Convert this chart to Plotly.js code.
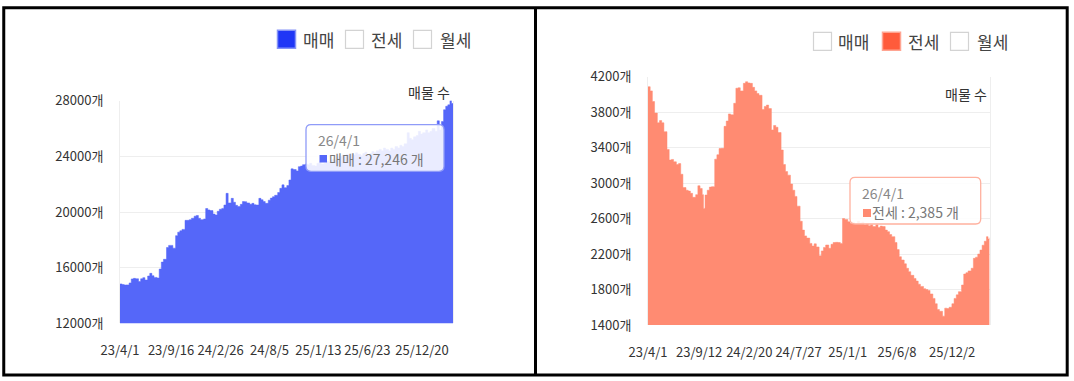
<!DOCTYPE html>
<html>
<head>
<meta charset="utf-8">
<script src="https://cdn.plot.ly/plotly-3.0.1.min.js"></script>
<style>
html,body{margin:0;padding:0;background:#fff;}
#chart{width:1074px;height:381px;}
</style>
</head>
<body>
<div id="chart"></div>
<script>
// ---------- DATA ----------
const dates = [
"2023-04-01","2023-04-08","2023-04-15","2023-04-22",
"2023-05-01","2023-05-08","2023-05-15","2023-05-22",
"2023-06-01","2023-06-08","2023-06-15","2023-06-22",
"2023-07-01","2023-07-08","2023-07-15","2023-07-22",
"2023-08-01","2023-08-08","2023-08-15","2023-08-22",
"2023-09-01","2023-09-08","2023-09-15","2023-09-22","2023-09-26",
"2023-10-01","2023-10-08","2023-10-15","2023-10-22",
"2023-11-01","2023-11-08","2023-11-15","2023-11-22",
"2023-12-01","2023-12-08","2023-12-15","2023-12-22",
"2024-01-01","2024-01-08","2024-01-15","2024-01-22",
"2024-02-01","2024-02-08","2024-02-15","2024-02-22",
"2024-03-01","2024-03-08","2024-03-15","2024-03-22",
"2024-04-01","2024-04-08","2024-04-15","2024-04-22",
"2024-05-01","2024-05-08","2024-05-15","2024-05-22",
"2024-06-01","2024-06-08","2024-06-15","2024-06-22",
"2024-07-01","2024-07-08","2024-07-15","2024-07-22",
"2024-08-01","2024-08-08","2024-08-15","2024-08-22",
"2024-09-01","2024-09-08","2024-09-15","2024-09-22",
"2024-10-01","2024-10-08","2024-10-15","2024-10-22",
"2024-11-01","2024-11-08","2024-11-15","2024-11-22",
"2024-12-01","2024-12-08","2024-12-15","2024-12-22",
"2025-01-01","2025-01-08","2025-01-15","2025-01-22",
"2025-02-01","2025-02-08","2025-02-15","2025-02-22",
"2025-03-01","2025-03-08","2025-03-15","2025-03-22",
"2025-04-01","2025-04-08","2025-04-15","2025-04-22",
"2025-05-01","2025-05-08","2025-05-15","2025-05-22",
"2025-06-01","2025-06-08","2025-06-15","2025-06-22",
"2025-07-01","2025-07-08","2025-07-15","2025-07-22",
"2025-08-01","2025-08-08","2025-08-15","2025-08-22",
"2025-09-01","2025-09-08","2025-09-15","2025-09-22",
"2025-10-01","2025-10-08","2025-10-15","2025-10-22",
"2025-11-01","2025-11-08","2025-11-15","2025-11-22",
"2025-12-01","2025-12-08","2025-12-15","2025-12-22",
"2026-01-01","2026-01-08","2026-01-15","2026-01-22",
"2026-02-01","2026-02-08","2026-02-15","2026-02-22",
"2026-03-01","2026-03-08","2026-03-15","2026-03-22","2026-03-27",
"2026-04-01"
];

// 매매 listings
const saleCounts = [
14830,14780,14750,14760,
14900,15190,15230,15200,
15000,15200,15280,15110,
15400,15590,15420,15300,
15250,15900,16400,16600,
17450,17600,17600,17400,17400,
18300,18550,18650,18750,
19400,19400,19450,19550,
19700,19750,19550,19450,
19500,20250,20150,20100,
19850,19780,20050,20200,
20260,20500,21340,20650,
20980,20700,20480,20400,
20550,20750,20740,20650,
20550,20620,20520,20500,
20980,20880,20750,20620,
20850,21000,21100,21200,
21400,21700,21950,21750,
21900,22300,23100,23050,
22950,23260,23300,23400,
23450,23400,23500,23350,
23300,23500,23600,23450,
23500,23650,23550,23700,
23800,23700,23900,24000,
24100,24000,24150,24050,
24200,24100,24250,24150,
24050,24200,24300,24100,
24200,24350,24250,24400,
24500,24400,24600,24500,
24400,24600,24500,24700,
24600,24800,24700,24900,
25700,25300,25200,25400,
25500,25800,25600,25700,
25900,25700,25800,26000,
25800,26550,25900,26500,
27350,27600,27700,28250,27800,
27246
];

// 전세 listings
const jeonseCounts = [
4087,4040,3920,3790,
3680,3705,3680,3580,
3380,3260,3267,3240,
3210,3220,3100,2950,
2920,2910,2885,2840,
2870,2970,2940,2870,2715,
2866,2920,2955,2960,
3270,3320,3390,3392,
3640,3700,3780,3770,
3900,4070,4075,4040,
4125,4143,4130,4125,
4080,4040,4010,3990,
3830,3865,3880,3840,
3600,3650,3630,3570,
3373,3210,3130,3090,
2990,2920,2850,2740,
2570,2470,2405,2380,
2320,2290,2315,2280,
2180,2235,2275,2302,
2265,2310,2330,2332,
2330,2320,2600,2590,
2565,2546,2560,2540,
2570,2550,2560,2530,
2545,2520,2530,2510,
2530,2500,2515,2510,
2470,2452,2420,2396,
2330,2250,2170,2133,
2090,2040,2001,1960,
1925,1895,1860,1835,
1810,1800,1790,1750,
1700,1640,1575,1555,
1500,1590,1585,1600,
1640,1700,1740,1776,
1851,1975,1990,2010,
2040,2152,2165,2200,
2245,2300,2345,2396,2370,
2385
];

const saleTickVals = ["2023-04-01","2023-09-16","2024-02-26","2024-08-05","2025-01-13","2025-06-23","2025-12-20"];
const saleTickText = ["23/4/1","23/9/16","24/2/26","24/8/5","25/1/13","25/6/23","25/12/20"];
const jeonseTickVals = ["2023-04-01","2023-09-12","2024-02-20","2024-07-27","2025-01-01","2025-06-08","2025-12-02"];
const jeonseTickText = ["23/4/1","23/9/12","24/2/20","24/7/27","25/1/1","25/6/8","25/12/2"];

const saleYTicks = [12000,16000,20000,24000,28000];
const jeonseYTicks = [1400,1800,2200,2600,3000,3400,3800,4200];

const legendLabels = ["매매","전세","월세"];
const tooltipDate = "26/4/1";
const saleTooltip = "매매 : 27,246 개";
const jeonseTooltip = "전세 : 2,385 개";
const axisCaption = "매물 수";

// ---------- LAYOUT HELPERS ----------
const W = 1074, H = 381;
const px = x => x / W;
const py = y => 1 - y / H;

const SALE_COLOR = "#5567f9";
const JEONSE_COLOR = "#ff8b72";
const FONT = "'Noto Sans CJK KR', 'Noto Sans', sans-serif";

function roundRect(x0, y0, x1, y1, r) {
  const rx = r / W, ry = r / H;
  const X0 = px(x0), X1 = px(x1), Y0 = py(y0), Y1 = py(y1);
  return `M ${X0+rx},${Y0} L ${X1-rx},${Y0} Q ${X1},${Y0} ${X1},${Y0-ry} ` +
         `L ${X1},${Y1+ry} Q ${X1},${Y1} ${X1-rx},${Y1} L ${X0+rx},${Y1} ` +
         `Q ${X0},${Y1} ${X0},${Y1+ry} L ${X0},${Y0-ry} Q ${X0},${Y0} ${X0+rx},${Y0} Z`;
}
function box(x0, y0, x1, y1, fill, line, lw) {
  return {type:"rect", xref:"paper", yref:"paper", x0:px(x0), x1:px(x1), y0:py(y1), y1:py(y0),
          fillcolor:fill, line:{color:line, width:lw}};
}
function txt(text, x, y, size, color, xanchor) {
  return {text:text, xref:"paper", yref:"paper", x:px(x), y:py(y), xanchor:xanchor||"left",
          yanchor:"middle", showarrow:false, borderpad:0, font:{size:size, color:color, family:FONT}};
}

// ---------- TRACES ----------
const traces = [
  {x:dates, y:saleCounts, type:"scatter", mode:"lines", xaxis:"x", yaxis:"y",
   line:{shape:"hv", width:0.5, color:SALE_COLOR}, fill:"tozeroy", fillcolor:SALE_COLOR, hoverinfo:"skip"},
  {x:dates, y:jeonseCounts, type:"scatter", mode:"lines", xaxis:"x2", yaxis:"y2",
   line:{shape:"hv", width:0.5, color:JEONSE_COLOR}, fill:"tozeroy", fillcolor:JEONSE_COLOR, hoverinfo:"skip"}
];

const xBase = {type:"date", range:["2023-04-01","2026-04-01"], tickmode:"array", showgrid:false,
  zeroline:false, showline:false, ticks:"", ticklabelstandoff:18, tickfont:{size:13, color:"#333"}, fixedrange:true};
const yBase = {tickmode:"array", showgrid:true, gridcolor:"#eeeeee", gridwidth:1, zeroline:false,
  showline:true, linecolor:"#eeeeee", linewidth:1, mirror:true, ticks:"", ticklabelstandoff:13,
  tickfont:{size:13, color:"#333"}, fixedrange:true};

const layout = {
  width:W, height:H, margin:{l:0,r:0,t:0,b:0}, paper_bgcolor:"#fff", plot_bgcolor:"#fff",
  showlegend:false, hovermode:false, font:{family:FONT},
  xaxis: Object.assign({}, xBase, {domain:[px(120), px(453)], anchor:"y",
    tickvals:saleTickVals, ticktext:saleTickText}),
  yaxis: Object.assign({}, yBase, {domain:[py(323.3), py(100.7)], anchor:"x", range:[12000,28000],
    tickvals:saleYTicks, ticktext:saleYTicks.map(v => v + "개")}),
  xaxis2: Object.assign({}, xBase, {domain:[px(648), px(989.6)], anchor:"y2",
    tickvals:jeonseTickVals, ticktext:jeonseTickText}),
  yaxis2: Object.assign({}, yBase, {domain:[py(325), py(76.7)], anchor:"x2", range:[1400,4200],
    tickvals:jeonseYTicks, ticktext:jeonseYTicks.map(v => v + "개")}),
  shapes: [
    // panel frame
    {type:"rect", xref:"paper", yref:"paper", x0:px(3.75), x1:px(1067.2), y0:py(375), y1:py(7.75),
     line:{color:"#000", width:3}, fillcolor:"rgba(0,0,0,0)", layer:"above"},
    {type:"line", xref:"paper", yref:"paper", x0:px(535.5), x1:px(535.5), y0:py(375), y1:py(7.75),
     line:{color:"#000", width:3}},
    // left legend
    box(277.5, 30.3, 295.5, 48.3, "#1f36f6", "#8593f7", 1.5),
    box(345.5, 30.3, 363.5, 48.3, "#ffffff", "#d3d3d3", 1.2),
    box(413.5, 30.3, 431.5, 48.3, "#ffffff", "#d3d3d3", 1.2),
    // right legend
    box(813.5, 32.3, 831.5, 50.3, "#ffffff", "#d3d3d3", 1.2),
    box(882.5, 32.3, 900.5, 50.3, "#ff5b3b", "#ffa592", 1.5),
    box(950.5, 32.3, 968.5, 50.3, "#ffffff", "#d3d3d3", 1.2),
    // tooltips
    {type:"path", xref:"paper", yref:"paper", path:roundRect(306, 124.7, 444, 171.3, 5),
     fillcolor:"rgba(255,255,255,0.88)", line:{color:"#8f9bf8", width:1.3}},
    box(319.5, 155, 327, 162.5, SALE_COLOR, SALE_COLOR, 0),
    {type:"path", xref:"paper", yref:"paper", path:roundRect(850, 177.3, 980.7, 224, 5),
     fillcolor:"rgba(255,255,255,0.88)", line:{color:"#ffb19f", width:1.3}},
    box(863, 209, 871, 217, JEONSE_COLOR, JEONSE_COLOR, 0)
  ],
  annotations: [
    txt(legendLabels[0], 302, 39.3, 17, "#444"),
    txt(legendLabels[1], 370, 39.3, 17, "#444"),
    txt(legendLabels[2], 439, 39.3, 17, "#444"),
    txt(legendLabels[0], 837, 41.3, 17, "#444"),
    txt(legendLabels[1], 907, 41.3, 17, "#444"),
    txt(legendLabels[2], 976, 41.3, 17, "#444"),
    txt(axisCaption, 451, 92, 14, "#333", "right"),
    txt(axisCaption, 988, 93.8, 14, "#333", "right"),
    txt(tooltipDate, 317, 140, 14, "#888"),
    txt(saleTooltip, 328, 159.2, 14, "#777"),
    txt(tooltipDate, 861.5, 193, 14, "#888"),
    txt(jeonseTooltip, 871, 212.2, 14, "#777")
  ]
};

Plotly.newPlot("chart", traces, layout, {staticPlot:true, displayModeBar:false});
</script>
</body>
</html>
